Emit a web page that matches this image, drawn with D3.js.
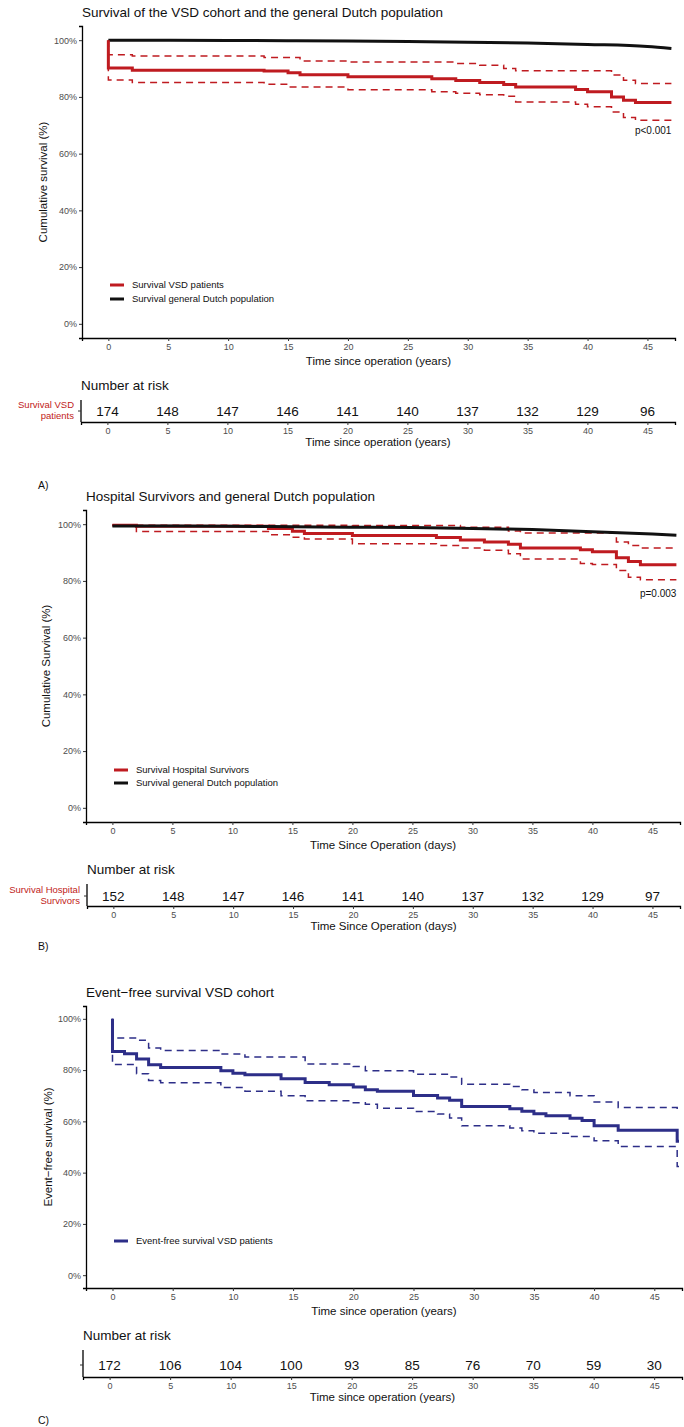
<!DOCTYPE html>
<html>
<head>
<meta charset="utf-8">
<script src="https://cdn.jsdelivr.net/npm/d3@7"></script>
<style>
  body { margin: 0; background: #fff; }
  svg { display: block; font-family: "Liberation Sans", Arial, sans-serif; }
</style>
</head>
<body>
<div id="chart"></div>
<script>
// ---- data ----
const timeTicks = [0, 5, 10, 15, 20, 25, 30, 35, 40, 45];
const pctTicks = [0, 20, 40, 60, 80, 100];

// A) VSD cohort
const vsdTime = [0, 0, 2, 13, 15, 16, 20, 27, 29, 31, 33, 34, 39, 40, 42, 43, 44, 47];
const vsdSurv = [100, 90.2, 89.4, 89.1, 88.5, 87.8, 87.1, 86.4, 85.8, 85.1, 84.4, 83.5, 82.6, 81.8, 80, 78.8, 78, 78];
const vsdUpperTime = [0, 0, 2, 13, 16, 20, 29, 31, 33, 34, 42, 43, 44, 47];
const vsdUpper = [100, 94.9, 94.4, 93.9, 92.7, 92.3, 91.8, 91.2, 90, 89.2, 87.7, 85.9, 84.7, 84.7];
const vsdLowerTime = [0, 0, 2, 13, 15, 20, 27, 29, 31, 33, 34, 39, 40, 42, 43, 44, 47];
const vsdLower = [100, 86, 85.1, 84.5, 83.5, 82.5, 81.8, 81.3, 80.8, 80.2, 78.2, 77.4, 76.5, 74.7, 72.7, 71.8, 71.8];
const popTime = [0, 5, 10, 15, 20, 25, 30, 35, 40, 45, 47];
const popSurvA = [100, 99.95, 99.9, 99.8, 99.7, 99.5, 99.3, 99.0, 98.5, 97.8, 97.1];
const riskA = [174, 148, 147, 146, 141, 140, 137, 132, 129, 96];

// B) hospital survivors
const hospTime = [0, 2, 13, 15, 16, 20, 27, 29, 31, 33, 34, 39, 40, 42, 43, 44, 47];
const hospSurv = [99.6, 99.3, 98.5, 97.5, 96.7, 96.0, 95.3, 94.4, 93.7, 92.9, 91.6, 91.0, 90.3, 88.2, 86.8, 85.7, 85.7];
const hospUpperTime = [0, 20, 29, 33, 34, 42, 43, 44, 47];
const hospUpper = [99.6, 99.5, 98.9, 97.6, 96.9, 93.7, 92.5, 91.6, 91.6];
const hospLowerTime = [0, 2, 13, 15, 16, 20, 27, 29, 31, 33, 34, 39, 40, 42, 43, 44, 47];
const hospLower = [99.6, 97.4, 96.3, 95.4, 94.8, 93.1, 92.5, 91.6, 90.8, 89.6, 87.7, 86.1, 85.8, 83.7, 81.3, 80.4, 80.4];
const popSurvB = [99.4, 99.35, 99.25, 99.1, 98.95, 98.8, 98.5, 98.1, 97.3, 96.5, 96.1];
const riskB = [152, 148, 147, 146, 141, 140, 137, 132, 129, 97];

// C) event-free survival
const efsTime = [0, 0, 1, 2, 3, 4, 9, 10, 11, 14, 16, 18, 20, 21, 22, 25, 27, 28, 29, 33, 34, 35, 36, 38, 39, 40, 42, 46.9, 47.05];
const efsSurv = [100, 87.3, 86.4, 84.3, 82.1, 81.0, 79.7, 78.8, 78.2, 76.6, 75.2, 74.3, 73.4, 72.3, 71.7, 70.1, 69.1, 68.2, 65.8, 64.9, 63.9, 63.0, 62.2, 61.2, 60.3, 58.3, 56.5, 52.2, 52.2];
const efsUpperTime = [0, 0, 2, 3, 4, 9, 11, 16, 20, 21, 25, 28, 29, 33, 34, 35, 38, 40, 42, 46.9, 47.05];
const efsUpper = [100, 92.5, 91.6, 88.6, 87.6, 86.3, 85.1, 82.4, 81.4, 79.7, 78.4, 77.3, 74.5, 73.6, 72.3, 71.3, 70, 67.6, 65.4, 64.2, 64.2];
const efsLowerTime = [0, 0, 2, 3, 4, 9, 11, 14, 16, 20, 21, 22, 25, 27, 28, 29, 33, 34, 35, 38, 40, 42, 46.9, 47.05];
const efsLower = [100, 82.2, 78.6, 75.9, 75.1, 73.2, 71.7, 70.0, 68.0, 67.3, 66.7, 65.1, 63.8, 62.9, 61.3, 58.3, 57.4, 56.3, 55.4, 54.1, 52.4, 50.2, 42.4, 42.4];
const riskC = [172, 106, 104, 100, 93, 85, 76, 70, 59, 30];

const RED = '#bf1b20';
const BLUE = '#2d2e88';
const TICK_GREY = '#4d4d4d';

const svg = d3.select('#chart').append('svg')
    .attr('width', 684)
    .attr('height', 1427);

const pts = (t, v) => t.map((d, i) => [d, v[i]]);

function drawPanel(p) {
    const x = d3.scaleLinear().domain([-2.2, 47.3]).range([p.left, p.right]);
    const y = d3.scaleLinear().domain([-5, 105]).range([p.bottom, p.top]);
    const g = svg.append('g');

    g.append('text').attr('x', p.left).attr('y', p.top - 9)
        .style('font-size', '13.5px').style('fill', '#111').text(p.title);

    const yAxis = g.append('g').attr('transform', `translate(${p.left},0)`)
        .call(d3.axisLeft(y).tickValues(pctTicks).tickSize(3).tickPadding(2).tickFormat(d => d + '%'));
    const xAxis = g.append('g').attr('transform', `translate(0,${p.bottom})`)
        .call(d3.axisBottom(x).tickValues(timeTicks).tickSize(3).tickPadding(3));
    [yAxis, xAxis].forEach(a => {
        a.select('.domain').attr('stroke', '#000').attr('stroke-width', 1.3);
        a.selectAll('.tick line').attr('stroke', '#333');
        a.selectAll('.tick text').style('font-size', '9px').style('fill', TICK_GREY).style('font-family', 'inherit');
    });

    g.append('text').attr('x', (p.left + p.right) / 2).attr('y', p.bottom + 27)
        .attr('text-anchor', 'middle').style('font-size', '11.5px').style('fill', '#111').text(p.xTitle);
    g.append('text').attr('transform', `translate(${p.yTitleX},${(p.top + p.bottom) / 2}) rotate(-90)`)
        .attr('text-anchor', 'middle').style('font-size', '11.5px').style('fill', '#111').text(p.yTitle);

    const step = d3.line().x(d => x(d[0])).y(d => y(d[1])).curve(d3.curveStepAfter);
    const smooth = d3.line().x(d => x(d[0])).y(d => y(d[1])).curve(d3.curveMonotoneX);

    p.dashed.forEach(s => {
        g.append('path').datum(s).attr('fill', 'none').attr('stroke', p.color)
            .attr('stroke-width', 1.5).attr('stroke-dasharray', '7,5').attr('d', step);
    });
    if (p.pop && !p.popOnTop) {
        g.append('path').datum(p.pop).attr('fill', 'none').attr('stroke', '#111')
            .attr('stroke-width', 3).attr('d', smooth);
    }
    g.append('path').datum(p.solid).attr('fill', 'none').attr('stroke', p.color)
        .attr('stroke-width', 3).attr('d', step);
    if (p.popOnTop) {
        g.append('path').datum(p.pop).attr('fill', 'none').attr('stroke', '#111')
            .attr('stroke-width', 3).attr('d', smooth);
    }

    if (p.pText) {
        g.append('text').attr('x', x(47)).attr('y', p.pY).attr('text-anchor', 'end')
            .style('font-size', '10px').style('fill', '#111').text(p.pText);
    }

    // legend
    p.legend.forEach((l, i) => {
        const ly = p.legendY + i * p.legendGap;
        g.append('line').attr('x1', p.left + 28).attr('x2', p.left + 42).attr('y1', ly).attr('y2', ly)
            .attr('stroke', l.color).attr('stroke-width', 3);
        g.append('text').attr('x', p.left + 50).attr('y', ly).attr('dy', '0.35em')
            .style('font-size', '9.5px').style('fill', '#111').text(l.label);
    });

    // number at risk table
    const rTop = p.bottom + 62;
    const rBottom = rTop + p.riskH;
    const xr = d3.scaleLinear().domain([-2.2, 47.3]).range([p.riskLeft, p.right]);
    g.append('text').attr('x', p.riskLeft).attr('y', rTop - 10)
        .style('font-size', '13.5px').style('fill', '#111').text('Number at risk');
    g.append('line').attr('x1', p.riskLeft).attr('x2', p.riskLeft).attr('y1', rTop).attr('y2', rBottom)
        .attr('stroke', '#000').attr('stroke-width', 1.3);
    const rowY = rTop + p.riskRow;
    g.append('line').attr('x1', p.riskLeft - 3).attr('x2', p.riskLeft).attr('y1', rowY).attr('y2', rowY)
        .attr('stroke', '#333');
    p.riskLabel.forEach((txt, i) => {
        g.append('text').attr('x', p.riskLeft - 7).attr('y', rowY - 1 + (i - (p.riskLabel.length - 1) / 2) * 11.5)
            .attr('dy', '0.35em').attr('text-anchor', 'end')
            .style('font-size', '9.5px').style('fill', p.riskLabelColor).text(txt);
    });
    g.selectAll(null).data(p.risk).enter().append('text')
        .attr('x', (d, i) => xr(timeTicks[i])).attr('y', rowY).attr('dy', '0.35em')
        .attr('text-anchor', 'middle').style('font-size', '13.5px').style('fill', '#111').text(d => d);
    const rAxis = g.append('g').attr('transform', `translate(0,${rBottom})`)
        .call(d3.axisBottom(xr).tickValues(timeTicks).tickSize(3).tickPadding(3));
    rAxis.select('.domain').attr('stroke', '#000').attr('stroke-width', 1.3);
    rAxis.selectAll('.tick line').attr('stroke', '#333');
    rAxis.selectAll('.tick text').style('font-size', '9px').style('fill', TICK_GREY).style('font-family', 'inherit');
    g.append('text').attr('x', (p.riskLeft + p.right) / 2).attr('y', rBottom + 24)
        .attr('text-anchor', 'middle').style('font-size', '11.5px').style('fill', '#111').text(p.xTitle);

    g.append('text').attr('x', 38).attr('y', p.tagY)
        .style('font-size', '10.5px').style('fill', '#111').text(p.tag);
}

drawPanel({
    title: 'Survival of the VSD cohort and the general Dutch population',
    left: 82, right: 675, top: 26, bottom: 338, yTitleX: 47,
    xTitle: 'Time since operation (years)', yTitle: 'Cumulative survival (%)',
    color: RED,
    solid: pts(vsdTime, vsdSurv),
    dashed: [pts(vsdUpperTime, vsdUpper), pts(vsdLowerTime, vsdLower)],
    pop: pts(popTime, popSurvA),
    pText: 'p<0.001', pY: 134,
    legend: [{ color: RED, label: 'Survival VSD patients' }, { color: '#111', label: 'Survival general Dutch population' }],
    legendY: 285, legendGap: 14,
    riskLeft: 81, riskH: 22, riskRow: 11, risk: riskA,
    riskLabel: ['Survival VSD', 'patients'], riskLabelColor: RED,
    tag: 'A)', tagY: 489
});

drawPanel({
    title: 'Hospital Survivors and general Dutch population',
    left: 86, right: 680, top: 510, bottom: 822, yTitleX: 50,
    xTitle: 'Time Since Operation (days)', yTitle: 'Cumulative Survival (%)',
    color: RED,
    solid: pts(hospTime, hospSurv),
    dashed: [pts(hospUpperTime, hospUpper), pts(hospLowerTime, hospLower)],
    pop: pts(popTime, popSurvB), popOnTop: true,
    pText: 'p=0.003', pY: 597,
    legend: [{ color: RED, label: 'Survival Hospital Survivors' }, { color: '#111', label: 'Survival general Dutch population' }],
    legendY: 770, legendGap: 13,
    riskLeft: 87, riskH: 22, riskRow: 12, risk: riskB,
    riskLabel: ['Survival Hospital', 'Survivors'], riskLabelColor: RED,
    tag: 'B)', tagY: 950
});

drawPanel({
    title: 'Event\u2212free survival VSD cohort',
    left: 86, right: 682, top: 1006, bottom: 1288, yTitleX: 52,
    xTitle: 'Time since operation (years)', yTitle: 'Event\u2212free survival (%)',
    color: BLUE,
    solid: pts(efsTime, efsSurv),
    dashed: [pts(efsUpperTime, efsUpper), pts(efsLowerTime, efsLower)],
    legend: [{ color: BLUE, label: 'Event-free survival VSD patients' }],
    legendY: 1241, legendGap: 14,
    riskLeft: 83, riskH: 27, riskRow: 15, risk: riskC,
    riskLabel: [], riskLabelColor: RED,
    tag: 'C)', tagY: 1424
});
</script>
</body>
</html>
